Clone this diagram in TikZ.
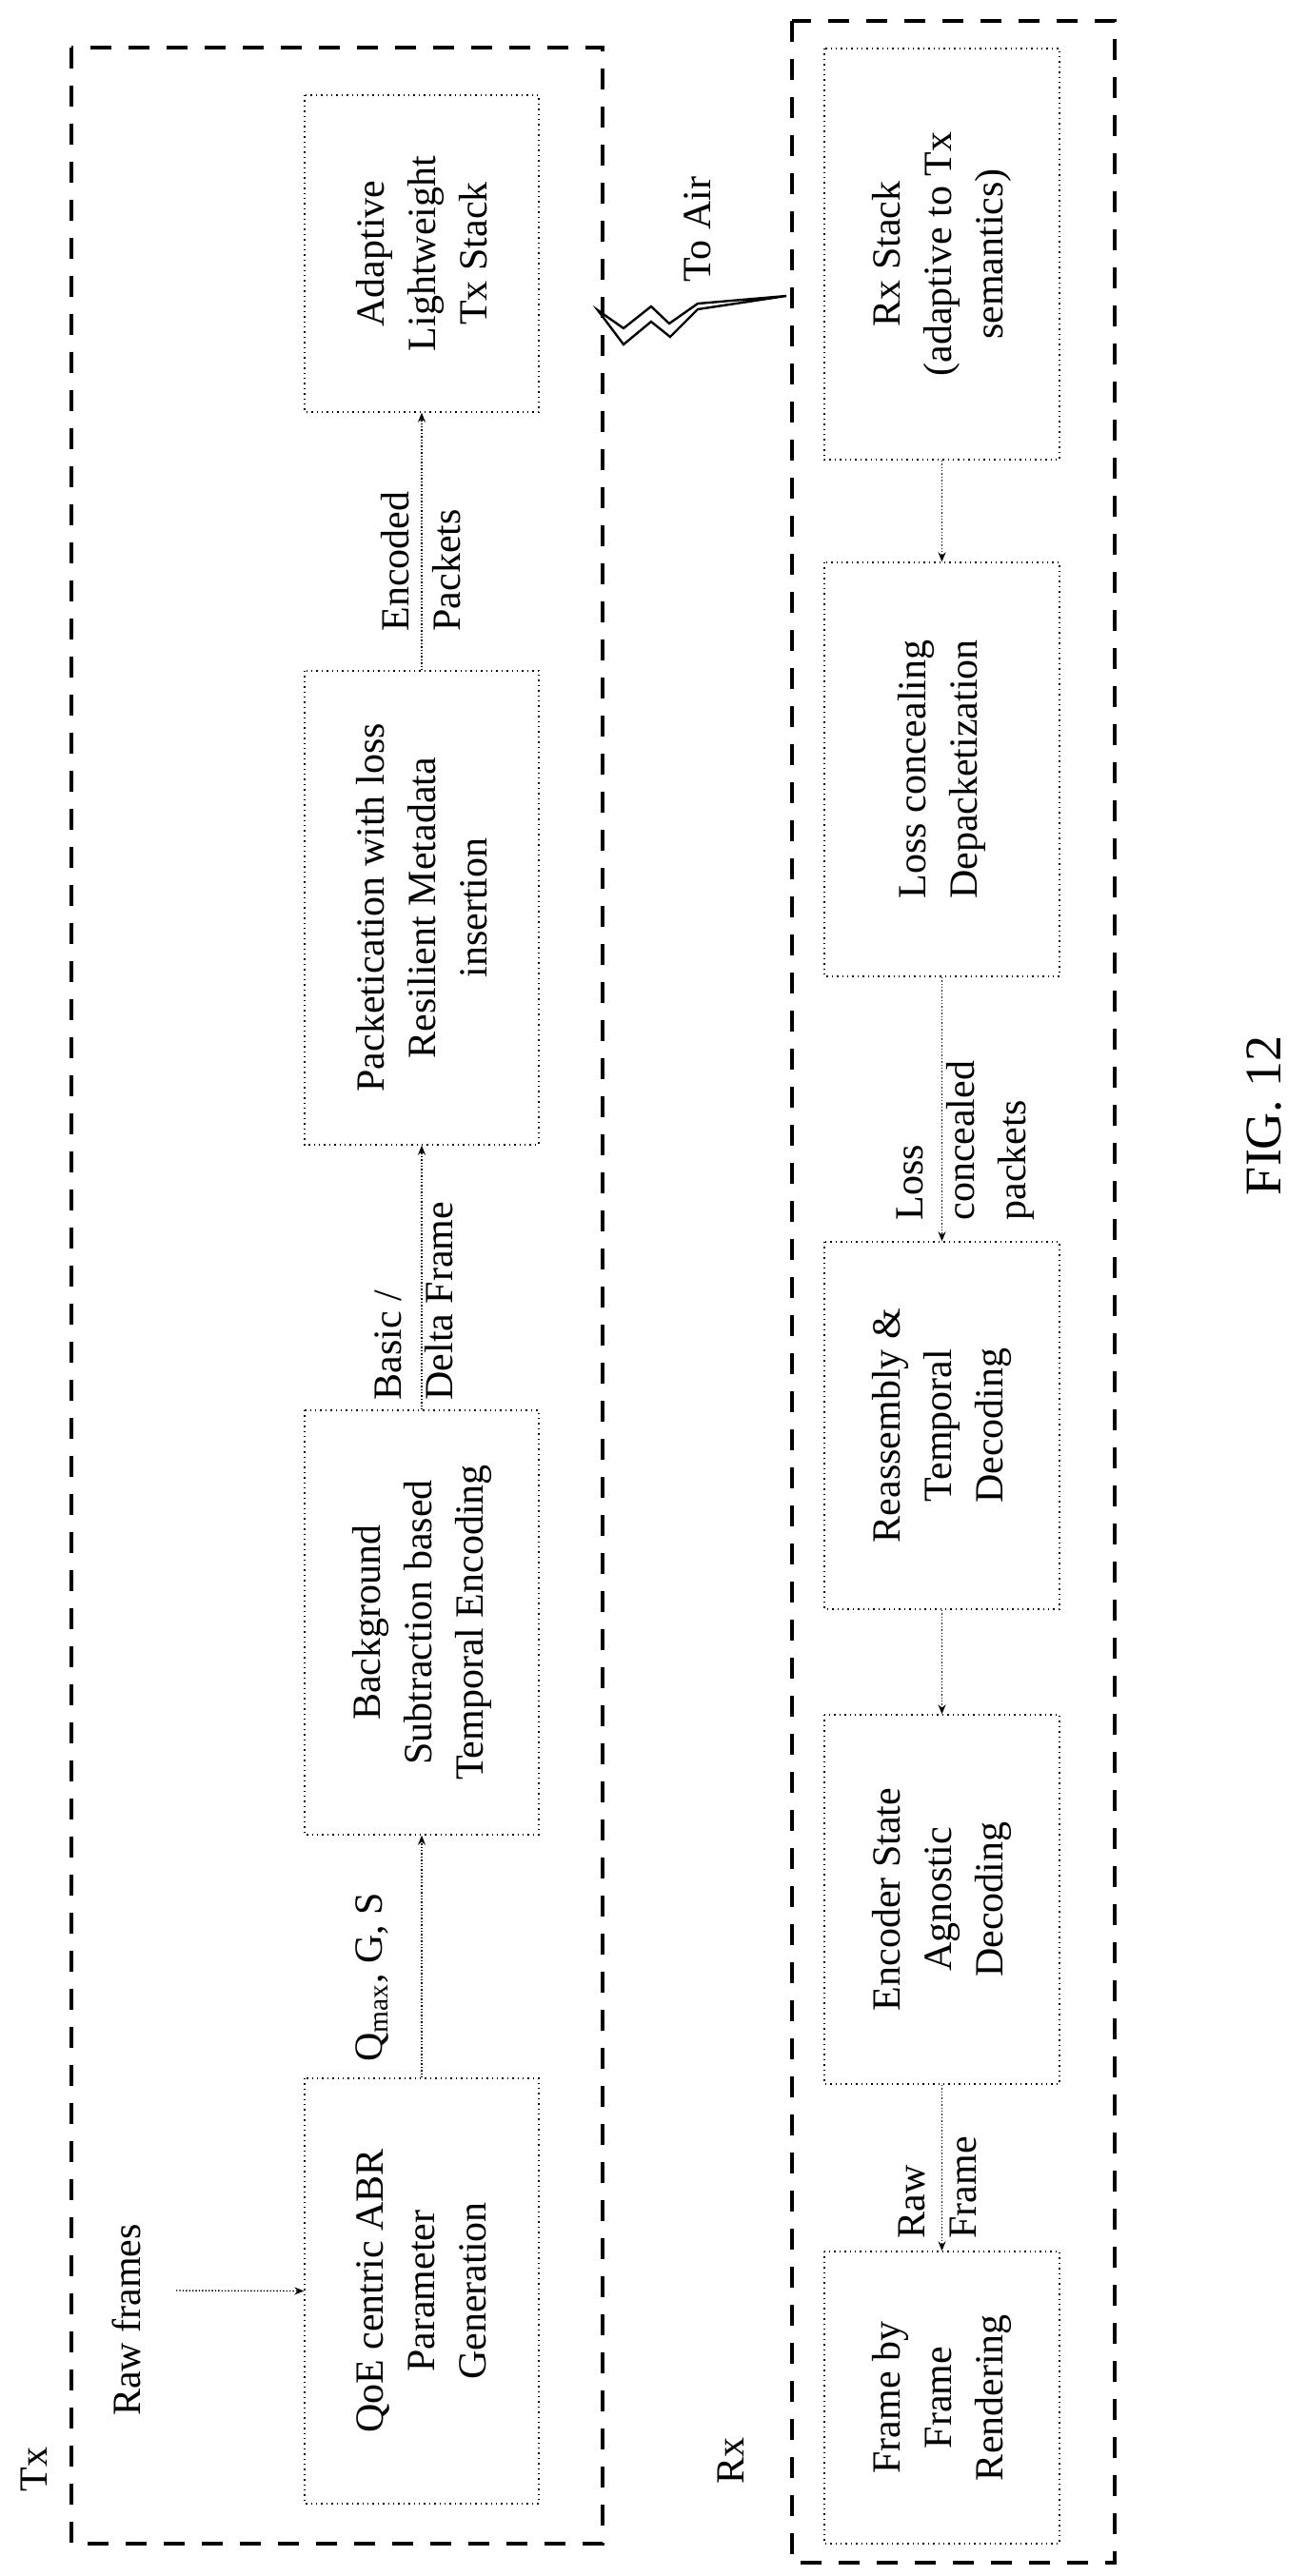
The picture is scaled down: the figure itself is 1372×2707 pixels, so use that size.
\documentclass[tikz,border=0pt]{standalone}
\usepackage{fontspec}
\setmainfont{Liberation Serif}
\usetikzlibrary{arrows.meta}
\begin{document}
\begin{tikzpicture}[x=0.5pt,y=-0.5pt,
  box/.style={draw,dotted,line width=0.7pt,rotate=90,inner sep=0pt,align=center,font=\fontsize{21}{27}\selectfont},
  outer/.style={draw,line width=2pt,dash pattern=on 11pt off 9pt},
  lbl/.style={rotate=90,inner sep=0pt,align=left,font=\fontsize{21}{27}\selectfont},
  arr/.style={densely dotted,line width=0.7pt,-{Stealth[length=5pt,width=4pt]}}]
\useasboundingbox (0,0) rectangle (1372,2707);
\draw[outer] (75,50) rectangle (633,2673);
\draw[outer] (832,22) rectangle (1171,2693);
\node[lbl] (tx) at (36,2595) {Tx};
\node[lbl] (rx) at (768,2586) {Rx};
% Tx boxes
\node[box,minimum width=166.5pt,minimum height=123pt] (ad) at (443,266.5) {Adaptive\\Lightweight\\Tx Stack};
\node[box,minimum width=249pt,minimum height=123pt] (pk) at (443,954) {Packetication with loss\\Resilient Metadata\\insertion};
\node[box,minimum width=223pt,minimum height=123pt] (bg) at (443,1705) {Background\\Subtraction based\\Temporal Encoding};
\node[box,minimum width=223.5pt,minimum height=123pt] (qoe) at (443,2407.5) {QoE centric ABR\\Parameter\\Generation};
\node[lbl] (raw) at (133,2438) {Raw frames};
\coordinate (rawend) at (185,2407);
\draw[arr] (rawend) -- (qoe.north);
\draw[arr] (qoe.east) -- (bg.west);
\draw[arr] (bg.east) -- (pk.west);
\draw[arr] (pk.east) -- (ad.west);
\node[lbl,anchor=center] (lq) at (391,2078) {Q$_{\mathrm{max}}$, G, S};
\node[lbl,anchor=west] (lb) at (435,1472) {Basic /\\Delta Frame};
\node[lbl,anchor=west] (le) at (442,664) {Encoded\\Packets};
% Rx boxes
\node[box,minimum width=216pt,minimum height=123.5pt] (rs) at (989.5,267) {Rx Stack\\(adaptive to Tx\\semantics)};
\node[box,minimum width=217.5pt,minimum height=123.5pt] (lc) at (989.5,808.5) {Loss concealing\\Depacketization};
\node[box,minimum width=193pt,minimum height=123.5pt] (re) at (989.5,1498) {Reassembly \&\\Temporal\\Decoding};
\node[box,minimum width=194pt,minimum height=123.5pt] (es) at (989.5,1996) {Encoder State\\Agnostic\\Decoding};
\node[box,minimum width=153.5pt,minimum height=123.5pt] (fr) at (989.5,2519.5) {Frame by\\Frame\\Rendering};
\draw[arr] (rs.west) -- (lc.east);
\draw[arr] (lc.west) -- (re.east);
\draw[arr] (re.west) -- (es.east);
\draw[arr] (es.west) -- (fr.east);
\node[lbl,anchor=west] (ll) at (1014,1283) {Loss\\concealed\\packets};
\node[lbl,anchor=west] (lr) at (985,2353) {Raw\\Frame};
% air link
\node[lbl] (air) at (733,241) {To Air};
\draw[line width=1.2pt,fill=white,line join=miter]
  (628,326) -- (655,362) -- (684,338) -- (704,354) -- (733,325) -- (826,311)
  -- (733,319) -- (703,340) -- (684,322) -- (655,345) -- cycle;
\node[rotate=90,font=\fontsize{27}{32}\selectfont] (fig) at (1328,1172) {FIG. 12};
\end{tikzpicture}
\end{document}
